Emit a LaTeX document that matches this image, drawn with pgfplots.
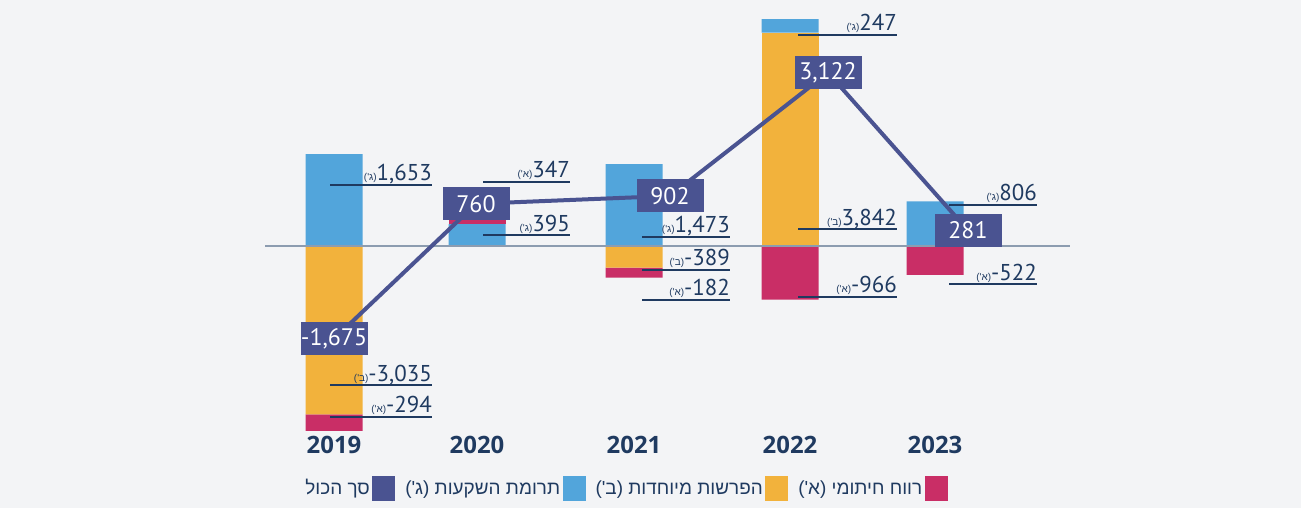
\documentclass[border=0pt]{standalone}
\usepackage{pgfplots}
\pgfplotsset{compat=1.18}
\usepackage{fontspec}
\setmainfont{PT Sans}
\newfontfamily\yearfont{Open Sans}
\newfontfamily\hebfont[Script=Hebrew]{Liberation Sans}
\TeXXeTstate=1
\definecolor{bgC}{HTML}{F3F4F6}
\definecolor{blueC}{HTML}{52A5DB}
\definecolor{yellowC}{HTML}{F2B23C}
\definecolor{magC}{HTML}{C92E66}
\definecolor{navyC}{HTML}{4A5391}
\definecolor{textC}{HTML}{1F3A60}
\definecolor{zeroC}{HTML}{8C9CB0}
\newcommand{\seglab}[5]{% xl, xr, v, tag, number
  \draw[textC, line width=1.3bp] (axis cs:#1,#3) -- (axis cs:#2,#3);
  \node[anchor=base east, inner sep=0, text=textC, yshift=4bp] at (axis cs:#2,#3)
    {{\hebfont\fontsize{10}{12}\selectfont (#4')}\fontsize{23}{26}\selectfont #5};
}
\pgfplotsset{base/.style={at={(0,0)}, anchor=south west, scale only axis,
  width=1301bp, height=508bp, xmin=0, xmax=1301, ymin=-4720.7, ymax=4432.4,
  clip=false}}
\begin{document}
\begin{tikzpicture}[x=1bp,y=1bp]
\useasboundingbox (0,0) rectangle (1301,508);
\fill[bgC] (0,0) rectangle (1301,508);
% positive stacks
\begin{axis}[base, hide axis, ybar stacked, bar width=57]
\addplot[fill=yellowC, draw=none] coordinates {(334,0) (477,0) (634,0) (790,3842) (935,0)};
\addplot[fill=blueC, draw=none] coordinates {(334,1653) (477,395) (634,1473) (790,247) (935,806)};
\addplot[fill=magC, draw=none] coordinates {(334,0) (477,347) (634,0) (790,0) (935,0)};
\end{axis}
% negative stacks
\begin{axis}[base, hide axis, ybar stacked, bar width=57]
\addplot[fill=yellowC, draw=none] coordinates {(334,-3035) (477,0) (634,-389) (790,0) (935,0)};
\addplot[fill=magC, draw=none] coordinates {(334,-294) (477,0) (634,-182) (790,-966) (935,-522)};
\end{axis}
% line, labels, legend
\begin{axis}[base, axis x line=bottom, axis y line=none,
  x axis line style={draw=none}, xtick style={draw=none},
  xtick={334,477,634,790,935}, xticklabels={2019,2020,2021,2022,2023},
  xticklabel style={anchor=center, yshift=65bp, text=textC,
    font=\yearfont\bfseries\fontsize{24}{28}\selectfont},
  legend style={at={(axis cs:625,-4360)}, anchor=center, draw=none, fill=none,
    font=\hebfont\fontsize{19}{22}\selectfont, text=textC,
    /tikz/every even column/.append style={column sep=8bp},
    nodes={inner sep=2.5bp}},
  legend columns=4, legend plot pos=right]
\addplot[zeroC, line width=2bp, forget plot] coordinates {(265,0) (1070,0)};
\addplot[navyC, line width=4bp, forget plot, nodes near coords,
  point meta=explicit symbolic,
  every node near coord/.append style={anchor=center, fill=navyC, text=white,
    font=\fontsize{24}{28}\selectfont, minimum width=67bp, minimum height=33bp,
    inner sep=0}]
  coordinates {(334,-1675) [-1,675] (476,760) [760] (670,902) [902] (828,3122) [3,122] (968,281) [281]};
\seglab{330}{432}{1099}{ג}{1,653}
\seglab{330}{432}{-2505}{ב}{-3,035}
\seglab{330}{432}{-3081}{א}{-294}
\seglab{483}{570}{1153}{א}{347}
\seglab{483}{570}{198}{ג}{395}
\seglab{642}{730}{162}{ג}{1,473}
\seglab{642}{730}{-432}{ב}{-389}
\seglab{642}{730}{-973}{א}{-182}
\seglab{798}{897}{3802}{ג}{247}
\seglab{798}{897}{306}{ב}{3,842}
\seglab{798}{897}{-919}{א}{-966}
\seglab{949}{1037}{739}{ג}{806}
\seglab{949}{1037}{-685}{א}{-522}
\addlegendimage{legend image code/.code={\fill[navyC] (0bp,-12bp) rectangle (22bp,12bp);}}
\addlegendentry{\beginR סך הכול\endR}
\addlegendimage{legend image code/.code={\fill[blueC] (0bp,-12bp) rectangle (22bp,12bp);}}
\addlegendentry{(ג') \beginR תרומת השקעות\endR}
\addlegendimage{legend image code/.code={\fill[yellowC] (0bp,-12bp) rectangle (22bp,12bp);}}
\addlegendentry{(ב') \beginR הפרשות מיוחדות\endR}
\addlegendimage{legend image code/.code={\fill[magC] (0bp,-12bp) rectangle (22bp,12bp);}}
\addlegendentry{(א') \beginR רווח חיתומי\endR}
\end{axis}
\end{tikzpicture}
\end{document}
